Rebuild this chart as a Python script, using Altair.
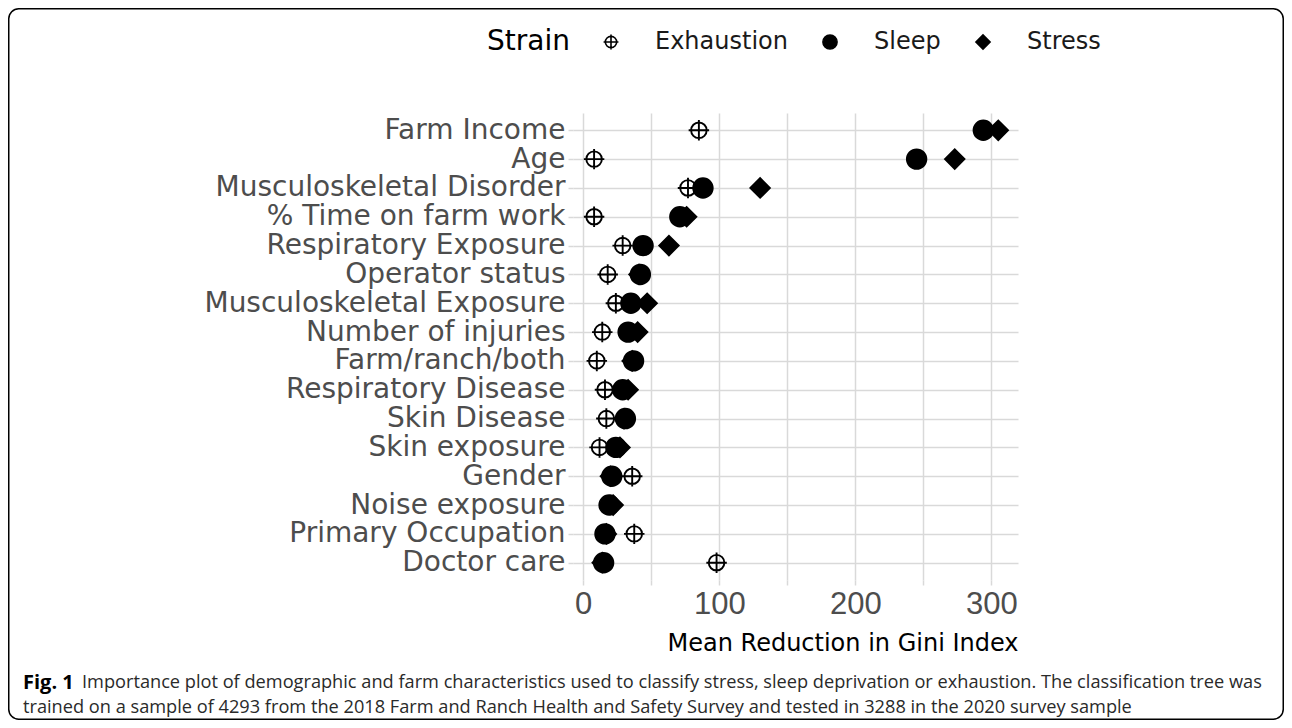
import altair as alt
import pandas as pd

# ---- data ----
variables = [
    "Farm Income", "Age", "Musculoskeletal Disorder", "% Time on farm work",
    "Respiratory Exposure", "Operator status", "Musculoskeletal Exposure",
    "Number of injuries", "Farm/ranch/both", "Respiratory Disease",
    "Skin Disease", "Skin exposure", "Gender", "Noise exposure",
    "Primary Occupation", "Doctor care",
]
exhaustion = [85, 8, 77, 8, 29, 18, 24, 14, 10, 16, 17, 12, 36, 20, 37.5, 98]
sleep = [294, 245, 88, 71, 44, 42, 35, 33, 37, 29, 31, 24, 21, 19, 16, 15]
stress = [305, 273, 130, 76, 63, 41, 47, 40, 36, 33, 30, 27, 20, 22, 17, 14]
strains = ["Exhaustion", "Sleep", "Stress"]
x_ticks = [0, 50, 100, 150, 200, 250, 300]

caption_bold = "Fig. 1"
caption_line1 = ("Importance plot of demographic and farm characteristics used to classify "
                 "stress, sleep deprivation or exhaustion. The classification tree was")
caption_line2 = ("trained on a sample of 4293 from the 2018 Farm and Ranch Health and Safety "
                 "Survey and tested in 3288 in the 2020 survey sample")

rows = []
for name, series in zip(strains, [exhaustion, sleep, stress]):
    for v, val in zip(variables, series):
        rows.append({"Variable": v, "Value": val, "Strain": name})
df = pd.DataFrame(rows)

# ---- layout constants (pixels) ----
PW, PH = 445, 467            # plot area
PAD_L, PAD_T = 565, 105      # plot origin inside canvas
PAD_R = 1276 - PAD_L - PW
PAD_B = 712 - PAD_T - PH

cross = ("M-0.8,0 A0.8,0.8 0 1,1 0.8,0 A0.8,0.8 0 1,1 -0.8,0 Z "
         "M-1.05,0 L1.05,0 M0,-1.05 L0,1.05")

grey = "#4d4d4d"
gridc = "#d9d9d9"
AX_FONT = "DejaVu Sans"
TICK_FONT = "Liberation Sans"

points = alt.Chart(df).mark_point(size=380, strokeWidth=1.9, opacity=1).encode(
    x=alt.X("Value:Q",
            scale=alt.Scale(domain=[-7.5, 319.5], nice=False, zero=False),
            axis=alt.Axis(values=x_ticks,
                          labelExpr="datum.value % 100 === 0 ? datum.label : ''",
                          title="Mean Reduction in Gini Index",
                          titleAnchor="end", titleFontSize=24, titleFontWeight="normal",
                          titleColor="black", titleFont=AX_FONT, titlePadding=12,
                          labelFontSize=31, labelColor=grey, labelFont=TICK_FONT,
                          labelPadding=4, tickSize=5, tickColor=gridc, tickWidth=1.5,
                          grid=True, gridColor=gridc, gridWidth=1.5, domain=False)),
    y=alt.Y("Variable:N", sort=variables,
            scale=alt.Scale(padding=0.6),
            axis=alt.Axis(title=None, labelFontSize=28, labelColor=grey,
                          labelFont=AX_FONT, labelPadding=3, tickSize=5,
                          tickColor=gridc, tickWidth=1.5, grid=True, gridColor=gridc,
                          gridWidth=1.5, domain=False, labelLimit=600)),
    shape=alt.Shape("Strain:N", scale=alt.Scale(domain=strains,
                                                range=[cross, "circle", "diamond"])),
    fill=alt.Fill("Strain:N", scale=alt.Scale(domain=strains,
                                              range=["transparent", "black", "black"])),
    stroke=alt.Stroke("Strain:N", scale=alt.Scale(domain=strains,
                                                  range=["black", "black", "black"])),
    order=alt.Order("Strain:N"),
)

one = pd.DataFrame({"k": [0]})

border = alt.Chart(one).mark_rect(filled=False, stroke="black", strokeWidth=1.5,
                                  cornerRadius=10).encode(
    x=alt.value(-PAD_L + 0.75), x2=alt.value(PW + PAD_R - 0.75),
    y=alt.value(-PAD_T + 0.75), y2=alt.value(PH + PAD_B - 0.75),
)

cap_font = "Open Sans"
cap_size = 18.2
cap_bold = alt.Chart(one).mark_text(align="left", baseline="middle", font=cap_font,
                                    fontSize=20, fontWeight="bold",
                                    color="black").encode(
    x=alt.value(-550), y=alt.value(570), text=alt.value(caption_bold))
cap_l1 = alt.Chart(one).mark_text(align="left", baseline="middle", font=cap_font,
                                  fontSize=cap_size, color="#2a2a2a").encode(
    x=alt.value(-491), y=alt.value(570), text=alt.value(caption_line1))
cap_l2 = alt.Chart(one).mark_text(align="left", baseline="middle", font=cap_font,
                                  fontSize=cap_size, color="#2a2a2a").encode(
    x=alt.value(-550), y=alt.value(595), text=alt.value(caption_line2))

chart = alt.layer(points, border, cap_bold, cap_l1, cap_l2).properties(
    width=PW, height=PH,
    autosize=alt.AutoSizeParams(type="none"),
    padding={"left": PAD_L, "top": PAD_T, "right": PAD_R, "bottom": PAD_B},
).configure_view(stroke=None).configure_legend(
    orient="none", legendX=-86, legendY=-83, direction="horizontal",
    titleOrient="left", titleFontSize=28, titleFontWeight="normal", titleColor="black",
    titleFont=AX_FONT, titlePadding=29,
    labelFontSize=24, labelColor="#1a1a1a", labelFont=AX_FONT,
    symbolSize=200, symbolStrokeWidth=1.6, labelOffset=32, columnPadding=30,
)

chart.save("out.html", embed_options={"renderer": "svg", "actions": False})
